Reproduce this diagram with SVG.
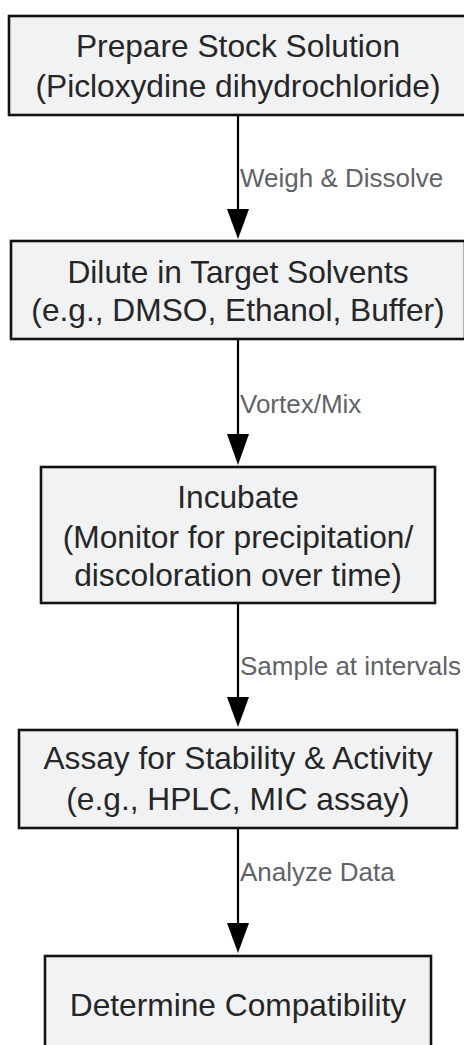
<svg xmlns="http://www.w3.org/2000/svg" width="464" height="1045" viewBox="0 0 464 1045">
<defs>
<style>
.box{fill:#f1f2f4;stroke:#111;stroke-width:2.6}
.t{font-family:"Liberation Sans",Arial,sans-serif;font-size:31.7px;fill:#262626;text-anchor:middle}
.lbl{font-family:"Liberation Sans",Arial,sans-serif;font-size:26px;fill:#5f6368}
.edge{stroke:#000;stroke-width:2.2;fill:none}
.head{fill:#000}
</style>
</defs>
<rect width="464" height="1045" fill="#fff"/>
<g id="connectors">
<line class="edge" x1="238" y1="115" x2="238" y2="210"/><path class="head" d="M227,209 L249,209 L238,239 Z"/>
<line class="edge" x1="238" y1="339" x2="238" y2="435"/><path class="head" d="M227,434 L249,434 L238,465 Z"/>
<line class="edge" x1="238" y1="603" x2="238" y2="698"/><path class="head" d="M227,697 L249,697 L238,727 Z"/>
<line class="edge" x1="238" y1="828" x2="238" y2="924"/><path class="head" d="M227,923 L249,923 L238,953 Z"/>
<text class="lbl" x="240" y="187">Weigh &amp; Dissolve</text>
<text class="lbl" x="240" y="413">Vortex/Mix</text>
<text class="lbl" x="240" y="675">Sample at intervals</text>
<text class="lbl" x="240" y="881">Analyze Data</text>
</g>
<g id="n1">
<rect class="box" x="9" y="16" width="458" height="99"/>
<text class="t" x="238" y="57">Prepare Stock Solution</text>
<text class="t" x="238" y="97">(Picloxydine dihydrochloride)</text>
</g>
<g id="n2">
<rect class="box" x="11" y="241" width="454" height="98"/>
<text class="t" x="238" y="283">Dilute in Target Solvents</text>
<text class="t" x="238" y="321">(e.g., DMSO, Ethanol, Buffer)</text>
</g>
<g id="n3">
<rect class="box" x="41" y="467" width="394" height="136"/>
<text class="t" x="238" y="508">Incubate</text>
<text class="t" x="238" y="548">(Monitor for precipitation/</text>
<text class="t" x="238" y="586">discoloration over time)</text>
</g>
<g id="n4">
<rect class="box" x="19" y="730" width="438" height="98"/>
<text class="t" x="238" y="769">Assay for Stability &amp; Activity</text>
<text class="t" x="238" y="810">(e.g., HPLC, MIC assay)</text>
</g>
<g id="n5">
<rect class="box" x="45" y="956" width="386" height="110"/>
<text class="t" x="238" y="1016">Determine Compatibility</text>
</g>
</svg>
